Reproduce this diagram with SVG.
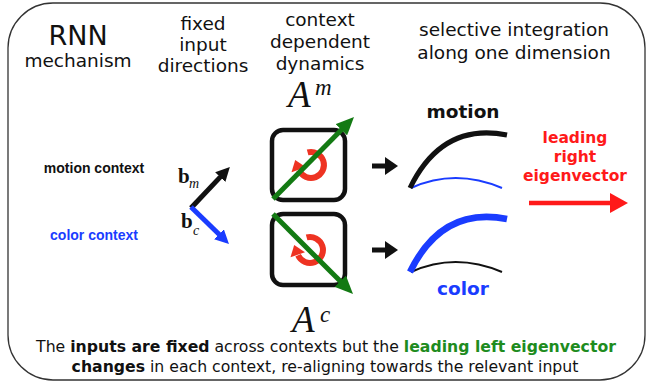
<svg xmlns="http://www.w3.org/2000/svg" width="647" height="383" viewBox="0 0 647 383">
  <style>
    .ui { font-family: "DejaVu Sans", "Liberation Sans", sans-serif; fill: #111; }
    .head { font-size: 18.5px; text-anchor: middle; }
    .bold { font-weight: bold; }
    .ctx { font-family: "Liberation Sans", Arial, sans-serif; font-weight: bold; font-size: 14px; text-anchor: middle; }
    .math { font-family: "Liberation Serif", "Times New Roman", serif; fill: #111; }
    .box { fill: none; stroke: #111; stroke-width: 4.5; }
    .green { stroke: #137a13; stroke-width: 5; fill: none; }
    .spin { fill: none; stroke: #ee3322; stroke-width: 6; }
  </style>
  <defs>
    <marker id="ghead" markerUnits="userSpaceOnUse" viewBox="0 0 18 16" markerWidth="18" markerHeight="16" refX="4" refY="8" orient="auto">
      <path d="M0,0 L18,8 L0,16 z" fill="#137a13"/>
    </marker>
    <marker id="khead" markerUnits="userSpaceOnUse" viewBox="0 0 14 14" markerWidth="14" markerHeight="14" refX="3" refY="7" orient="auto">
      <path d="M0,0 L14,7 L0,14 z" fill="#111"/>
    </marker>
    <marker id="bhead" markerUnits="userSpaceOnUse" viewBox="0 0 14 14" markerWidth="14" markerHeight="14" refX="3" refY="7" orient="auto">
      <path d="M0,0 L14,7 L0,14 z" fill="#1a3cff"/>
    </marker>
    <!-- clockwise rotation glyph, centred on the origin -->
    <g id="spin">
      <path class="spin" d="M-3.4,-12.6 A13,13 0 1 1 -11.9,5.3"/>
      <path d="M-15.8,-5 L-5,2.3 L-19.5,7.2 z" fill="#ee3322"/>
    </g>
  </defs>

  <!-- outer frame -->
  <rect x="8" y="3" width="637" height="377" rx="45" ry="45" fill="#fff" stroke="#333" stroke-width="1.3"/>

  <!-- column headings -->
  <g id="headings" class="ui">
    <text x="78" y="45" font-size="27" text-anchor="middle" class="ui">RNN</text>
    <text x="78" y="67" class="ui head">mechanism</text>
    <text x="203" y="30" class="ui head">fixed</text>
    <text x="203" y="51" class="ui head">input</text>
    <text x="203" y="72" class="ui head">directions</text>
    <text x="320" y="26" class="ui head">context</text>
    <text x="320" y="48" class="ui head">dependent</text>
    <text x="320" y="70" class="ui head">dynamics</text>
    <text x="514" y="36" class="ui head">selective integration</text>
    <text x="514" y="59" class="ui head">along one dimension</text>
  </g>

  <!-- context labels -->
  <g id="ctx-motion"><text x="94" y="173" class="ctx" fill="#111">motion context</text></g>
  <g id="ctx-color"><text x="94" y="240" class="ctx" fill="#1a3cff">color context</text></g>

  <!-- input vectors -->
  <g id="input-bm">
    <line x1="191" y1="208" x2="222.3" y2="174.9" stroke="#111" stroke-width="5" marker-end="url(#khead)"/>
    <text x="178" y="183" class="math" font-size="21" font-weight="bold">b</text>
    <text x="189" y="188" class="math" font-size="14" font-style="italic">m</text>
  </g>
  <g id="input-bc">
    <line x1="191" y1="207" x2="221.1" y2="236.3" stroke="#1a3cff" stroke-width="5" marker-end="url(#bhead)"/>
    <text x="181" y="228" class="math" font-size="21" font-weight="bold">b</text>
    <text x="193" y="235" class="math" font-size="14" font-style="italic">c</text>
  </g>

  <!-- dynamics matrices -->
  <g id="matrix-m">
    <text x="288" y="107" class="math" font-size="37" font-style="italic">A</text>
    <text x="315" y="95" class="math" font-size="23" font-style="italic">m</text>
    <rect class="box" x="272" y="130" width="73" height="70" rx="11"/>
    <use href="#spin" x="311" y="165"/>
    <line class="green" x1="273" y1="199" x2="344.2" y2="126.9" marker-end="url(#ghead)"/>
  </g>
  <g id="matrix-c">
    <rect class="box" x="272" y="214" width="73" height="71" rx="11"/>
    <use href="#spin" x="310" y="250"/>
    <line class="green" x1="273" y1="214" x2="343.1" y2="284.1" marker-end="url(#ghead)"/>
    <text x="292" y="332" class="math" font-size="37" font-style="italic">A</text>
    <text x="320" y="322" class="math" font-size="23" font-style="italic">c</text>
  </g>

  <!-- connectors -->
  <g id="connectors">
    <line x1="372" y1="166" x2="386" y2="166" stroke="#111" stroke-width="5"/>
    <path d="M385,157 L398,166 L385,175 z" fill="#111"/>
    <line x1="372" y1="250" x2="386" y2="250" stroke="#111" stroke-width="5"/>
    <path d="M385,241 L398,250 L385,259 z" fill="#111"/>
  </g>

  <!-- integration trajectories -->
  <g id="integration-motion">
    <text x="463" y="118" class="ui bold" font-size="18.5" text-anchor="middle">motion</text>
    <path d="M411,188 Q455,168 502,188" fill="none" stroke="#1a3cff" stroke-width="2"/>
    <path d="M410,188 Q442,122 507,135" fill="none" stroke="#111" stroke-width="5"/>
  </g>
  <g id="integration-color">
    <path d="M411,272 Q455,252 502,272" fill="none" stroke="#111" stroke-width="2"/>
    <path d="M410,272 Q442,206 507,219" fill="none" stroke="#1a3cff" stroke-width="6.5"/>
    <text x="463" y="295" class="ui bold" font-size="18.5" text-anchor="middle" style="fill:#1a3cff">color</text>
  </g>

  <!-- leading right eigenvector -->
  <g id="right-eigenvector">
    <text x="575" y="143" class="ui bold" font-size="15.5" text-anchor="middle" style="fill:#ff1a1a">leading</text>
    <text x="575" y="162" class="ui bold" font-size="15.5" text-anchor="middle" style="fill:#ff1a1a">right</text>
    <text x="575" y="181" class="ui bold" font-size="15.5" text-anchor="middle" style="fill:#ff1a1a">eigenvector</text>
    <line x1="529" y1="203" x2="612" y2="203" stroke="#ff1a1a" stroke-width="4.5"/>
    <path d="M610,193 L628,203 L610,213 z" fill="#ff1a1a"/>
  </g>

  <!-- caption -->
  <g id="caption" class="ui">
    <text x="326" y="352" text-anchor="middle" class="ui" font-size="15.7">The <tspan font-weight="bold">inputs are fixed</tspan> across contexts but the <tspan font-weight="bold" style="fill:#1e8c1e">leading left eigenvector</tspan></text>
    <text x="325" y="372" text-anchor="middle" class="ui" font-size="15.7"><tspan font-weight="bold">changes</tspan> in each context, re-aligning towards the relevant input</text>
  </g>
</svg>
